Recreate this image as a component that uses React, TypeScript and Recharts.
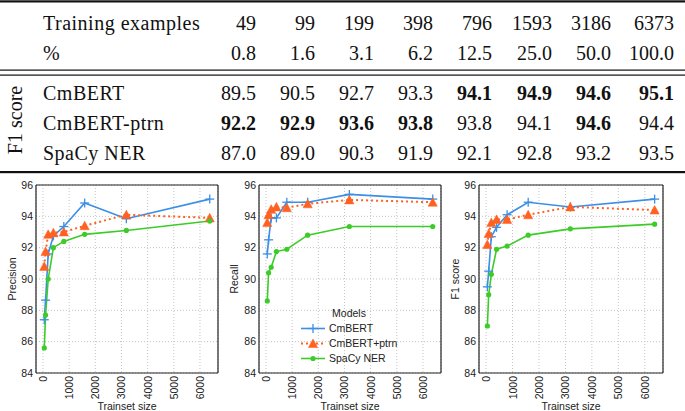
import React from 'react';
import { LineChart, Line, XAxis, YAxis, CartesianGrid, Legend } from 'recharts';

// ---------- data ----------
const trainSizes = [49, 99, 199, 398, 796, 1593, 3186, 6373];
const trainPercents = [0.8, 1.6, 3.1, 6.2, 12.5, 25.0, 50.0, 100.0];
const tableModels = ['CmBERT', 'CmBERT-ptrn', 'SpaCy NER'];
const legendNames = ['CmBERT', 'CmBERT+ptrn', 'SpaCy NER'];

const f1CmBERT = [89.5, 90.5, 92.7, 93.3, 94.1, 94.9, 94.6, 95.1];
const f1Ptrn = [92.2, 92.9, 93.6, 93.8, 93.8, 94.1, 94.6, 94.4];
const f1Spacy = [87.0, 89.0, 90.3, 91.9, 92.1, 92.8, 93.2, 93.5];

const precCmBERT = [87.4, 88.65, 91.6, 92.75, 93.35, 94.85, 93.85, 95.1];
const precPtrn = [90.8, 91.75, 92.85, 92.95, 93.0, 93.4, 94.1, 93.9];
const precSpacy = [85.6, 87.7, 90.0, 92.0, 92.4, 92.85, 93.1, 93.7];

const recCmBERT = [91.6, 92.5, 93.9, 93.9, 94.9, 94.9, 95.4, 95.1];
const recPtrn = [93.6, 94.1, 94.45, 94.6, 94.55, 94.8, 95.05, 94.9];
const recSpacy = [88.6, 90.4, 90.75, 91.75, 91.9, 92.8, 93.35, 93.35];

const xTicks = [0, 1000, 2000, 3000, 4000, 5000, 6000];
const yTicks = [84, 86, 88, 90, 92, 94, 96];
const xDomain: [number, number] = [-267, 6689];
const yDomain: [number, number] = [84, 96];

// ---------- styles ----------
const SERIF = "'Liberation Serif', 'DejaVu Serif', 'Times New Roman', serif";
const SANS = "'Liberation Sans', Arial, Helvetica, sans-serif";
const BLUE = '#3a8fe8';
const ORANGE = '#ff6121';
const GREEN = '#3ccc28';
const INK = '#111';

const colRight = [256, 315, 374, 433, 492, 552, 611, 674];

const PlusMarker = ({ cx, cy }: any) => (
  <g>
    <line x1={cx - 4.5} y1={cy} x2={cx + 4.5} y2={cy} stroke={BLUE} strokeWidth={1.3} />
    <line x1={cx} y1={cy - 4.5} x2={cx} y2={cy + 4.5} stroke={BLUE} strokeWidth={1.3} />
  </g>
);
const TriMarker = ({ cx, cy }: any) => (
  <polygon
    points={`${cx},${cy - 4.6} ${cx - 4.6},${cy + 4.0} ${cx + 4.6},${cy + 4.0}`}
    fill={ORANGE}
    stroke={ORANGE}
    strokeWidth={0.5}
  />
);
const DotMarker = ({ cx, cy }: any) => <circle cx={cx} cy={cy} r={2.6} fill={GREEN} />;

const XTick = (props: any) => {
  const { x, y, payload } = props;
  return (
    <text
      x={x}
      y={y}
      transform={`rotate(-90, ${x}, ${y})`}
      textAnchor="end"
      dominantBaseline="central"
      fontSize={10.5}
      fill="#222"
      style={{ fontFamily: SANS }}
    >
      {payload.value}
    </text>
  );
};

const LegendBox = () => {
  const rows = [
    { name: legendNames[0], color: BLUE, dash: undefined as string | undefined, M: PlusMarker },
    { name: legendNames[1], color: ORANGE, dash: '2 3', M: TriMarker },
    { name: legendNames[2], color: GREEN, dash: undefined, M: DotMarker },
  ];
  return (
    <div style={{ fontFamily: SANS, fontSize: 10.5, color: '#222', lineHeight: '15px', width: 110 }}>
      <div style={{ width: 98, textAlign: 'center', height: 16, lineHeight: '17px' }}>Models</div>
      {rows.map((r) => (
        <div key={r.name} style={{ display: 'flex', alignItems: 'center', height: 15 }}>
          <svg width={29} height={15} style={{ display: 'block' }}>
            <line x1={1} y1={7.5} x2={25} y2={7.5} stroke={r.color} strokeWidth={r.dash ? 2 : 1.6} strokeDasharray={r.dash} />
            <r.M cx={13} cy={7.5} />
          </svg>
          <span style={{ whiteSpace: 'nowrap' }}>{r.name}</span>
        </div>
      ))}
    </div>
  );
};

type PanelProps = {
  left: number;
  yAxisWidth: number;
  marginRight: number;
  yLabel: string;
  labelX: number;
  cm: number[];
  pt: number[];
  sp: number[];
  showLegend?: boolean;
};

const Panel = ({ left, yAxisWidth, marginRight, yLabel, labelX, cm, pt, sp, showLegend }: PanelProps) => {
  const data = trainSizes.map((n, i) => ({ n, cm: cm[i], pt: pt[i], sp: sp[i] }));
  return (
    <div style={{ position: 'absolute', left, top: 175 }}>
      <LineChart width={230} height={236} data={data} margin={{ top: 9, right: marginRight, bottom: 0, left: 0 }}>
        <CartesianGrid stroke="#c4c4c4" strokeDasharray="1 2" strokeWidth={1} />
        <XAxis
          dataKey="n"
          type="number"
          domain={xDomain}
          ticks={xTicks}
          interval={0}
          allowDataOverflow
          height={38}
          tickLine={false}
          tickSize={0}
          tickMargin={3}
          axisLine={{ stroke: '#222', strokeWidth: 1.2 }}
          tick={<XTick />}
          label={{
            content: (p: any) => {
              const vb = p.viewBox;
              return (
                <text x={vb.x + vb.width / 2} y={vb.y + 37} textAnchor="middle" fontSize={10.5} fill="#222" style={{ fontFamily: SANS }}>
                  Trainset size
                </text>
              );
            },
          }}
        />
        <XAxis
          xAxisId="top"
          orientation="top"
          type="number"
          domain={xDomain}
          allowDataOverflow
          height={1}
          tick={false}
          tickLine={false}
          axisLine={{ stroke: '#222', strokeWidth: 1.2 }}
        />
        <YAxis
          type="number"
          domain={yDomain}
          ticks={yTicks}
          interval={0}
          allowDataOverflow
          width={yAxisWidth}
          tickLine={false}
          tickSize={0}
          tickMargin={3}
          axisLine={{ stroke: '#222', strokeWidth: 1.2 }}
          tick={{ fontSize: 10.5, fill: '#222', style: { fontFamily: SANS } }}
          label={{
            content: (p: any) => {
              const vb = p.viewBox;
              const cy = vb.y + vb.height / 2;
              return (
                <text
                  x={labelX}
                  y={cy}
                  transform={`rotate(-90, ${labelX}, ${cy})`}
                  textAnchor="middle"
                  dominantBaseline="central"
                  fontSize={10.5}
                  fill="#222"
                  style={{ fontFamily: SANS }}
                >
                  {yLabel}
                </text>
              );
            },
          }}
        />
        <YAxis
          yAxisId="right"
          orientation="right"
          type="number"
          domain={yDomain}
          allowDataOverflow
          width={1}
          tick={false}
          tickLine={false}
          axisLine={{ stroke: '#222', strokeWidth: 1.2 }}
        />
        <Line
          dataKey="cm"
          stroke={BLUE}
          strokeWidth={1.6}
          isAnimationActive={false}
          dot={(p: any) => <PlusMarker key={`c${p.index}`} cx={p.cx} cy={p.cy} />}
          activeDot={false}
        />
        <Line
          dataKey="pt"
          stroke={ORANGE}
          strokeWidth={2}
          strokeDasharray="2 3"
          isAnimationActive={false}
          dot={(p: any) => <TriMarker key={`t${p.index}`} cx={p.cx} cy={p.cy} />}
          activeDot={false}
        />
        <Line
          dataKey="sp"
          stroke={GREEN}
          strokeWidth={1.6}
          isAnimationActive={false}
          dot={(p: any) => <DotMarker key={`s${p.index}`} cx={p.cx} cy={p.cy} />}
          activeDot={false}
        />
        {showLegend && (
          <Legend
            layout="vertical"
            align="center"
            verticalAlign="middle"
            content={() => <LegendBox />}
            wrapperStyle={{ left: 72, top: 130, width: 110 }}
          />
        )}
      </LineChart>
    </div>
  );
};

const Table = () => {
  const rows = [f1CmBERT, f1Ptrn, f1Spacy];
  const colMax = trainSizes.map((_, i) => Math.max(...rows.map((r) => r[i])));
  const rowY = [100, 130, 160];
  const ts = { fontFamily: SERIF, fontSize: '20px' };
  const ls = { ...ts, letterSpacing: '0.5px' };
  return (
    <svg width={685} height={176} style={{ position: 'absolute', left: 0, top: 0 }}>
      <rect x={0} y={0.3} width={685} height={2.2} fill={INK} />
      <rect x={0} y={69.5} width={685} height={1.2} fill={INK} />
      <rect x={0} y={74.5} width={685} height={1.2} fill={INK} />
      <rect x={0} y={171} width={685} height={2.2} fill={INK} />
      <g fill={INK}>
        <text x={43} y={29.5} style={ls}>Training examples</text>
        {trainSizes.map((n, i) => (
          <text key={`n${i}`} x={colRight[i]} y={29.5} textAnchor="end" style={ts}>{n}</text>
        ))}
        <text x={43} y={59.5} style={ts}>%</text>
        {trainPercents.map((p, i) => (
          <text key={`p${i}`} x={colRight[i]} y={59.5} textAnchor="end" style={ts}>{p.toFixed(1)}</text>
        ))}
        {tableModels.map((m, r) => (
          <g key={m}>
            <text x={43} y={rowY[r]} style={ls}>{m}</text>
            {rows[r].map((v, i) => (
              <text
                key={i}
                x={colRight[i]}
                y={rowY[r]}
                textAnchor="end"
                style={{ ...ts, fontWeight: v === colMax[i] ? 'bold' : 'normal' }}
              >
                {v.toFixed(1)}
              </text>
            ))}
          </g>
        ))}
        <text x={22} y={120} transform="rotate(-90, 22, 120)" textAnchor="middle" style={ts}>F1 score</text>
      </g>
    </svg>
  );
}

export default function App() {
  return (
    <div style={{ position: 'absolute', left: 0, top: 0, width: 685, height: 411, background: '#fff', overflow: 'hidden' }}>
      <Table />
      <Panel left={0} yAxisWidth={36} marginRight={11} yLabel="Precision" labelX={12} cm={precCmBERT} pt={precPtrn} sp={precSpacy} />
      <Panel left={228} yAxisWidth={31} marginRight={16} yLabel="Recall" labelX={6} cm={recCmBERT} pt={recPtrn} sp={recSpacy} showLegend />
      <Panel left={446} yAxisWidth={33} marginRight={12} yLabel="F1 score" labelX={9} cm={f1CmBERT} pt={f1Ptrn} sp={f1Spacy} />
    </div>
  );
}
